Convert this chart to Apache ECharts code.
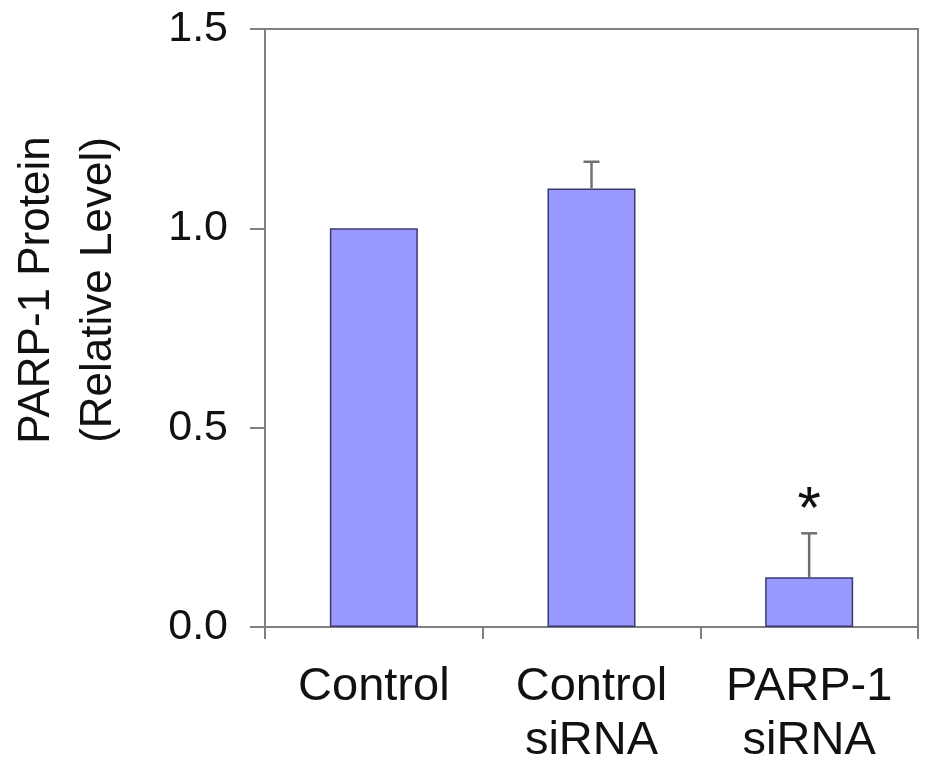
<!DOCTYPE html>
<html>
<head>
<meta charset="utf-8">
<script src="https://cdn.jsdelivr.net/npm/echarts@6/dist/echarts.min.js"></script>
<style>
  html, body { margin: 0; padding: 0; background: #fff; }
  #chart { width: 930px; height: 774px; }
</style>
</head>
<body>
<div id="chart"></div>
<script>
var categories = ['Control', 'Control\nsiRNA', 'PARP-1\nsiRNA'];
var values = [1.0, 1.10, 0.125];
var errors = [0, 0.067, 0.11];
var marks = ['', '', '*'];
var yTicks = [0, 0.5, 1.0, 1.5];

var font = 'Arial, "Liberation Sans", sans-serif';
var axisGray = '#808080';

var chart = echarts.init(document.getElementById('chart'));

var errData = values.map(function (v, i) { return [i, v, errors[i], marks[i]]; });

var option = {
  backgroundColor: '#fff',
  animation: false,
  grid: {
    left: 265, right: 12, top: 29, bottom: 147,
    show: true, borderColor: axisGray, borderWidth: 2
  },
  graphic: [{
    type: 'text',
    x: 68, y: 290,
    rotation: Math.PI / 2,
    style: {
      text: 'PARP-1 Protein\n(Relative Level)',
      font: '44px ' + font,
      fill: '#111',
      align: 'center',
      verticalAlign: 'middle',
      lineHeight: 62
    }
  }],
  xAxis: {
    type: 'category',
    data: categories,
    axisLine: { lineStyle: { color: axisGray, width: 2 } },
    axisTick: { show: true, length: 12, inside: false, lineStyle: { color: axisGray, width: 2 } },
    axisLabel: { color: '#111', fontFamily: font, fontSize: 47, lineHeight: 54, margin: 33 }
  },
  yAxis: {
    type: 'value',
    min: yTicks[0], max: yTicks[yTicks.length - 1], interval: 0.5,
    splitLine: { show: false },
    axisLine: { show: true, lineStyle: { color: axisGray, width: 2 } },
    axisTick: { show: true, length: 15, lineStyle: { color: axisGray, width: 2 } },
    axisLabel: {
      color: '#111', fontFamily: font, fontSize: 43, margin: 37,
      formatter: function (v) { return v.toFixed(1); }
    }
  },
  series: [
    {
      type: 'bar',
      data: values,
      barWidth: 88,
      itemStyle: { color: '#9999ff', borderColor: '#3a3a70', borderWidth: 1.5 }
    },
    {
      type: 'custom',
      data: errData,
      z: 5,
      renderItem: function (params, api) {
        var x = api.value(0), v = api.value(1), e = api.value(2), m = errData[params.dataIndex][3];
        var base = api.coord([x, v]);
        var top = api.coord([x, v + e]);
        var children = [];
        if (e > 0) {
          children.push({ type: 'line', shape: { x1: base[0], y1: base[1], x2: top[0], y2: top[1] },
            style: { stroke: '#707070', lineWidth: 2.5 } });
          children.push({ type: 'line', shape: { x1: top[0] - 8, y1: top[1], x2: top[0] + 8, y2: top[1] },
            style: { stroke: '#707070', lineWidth: 2.5 } });
        }
        if (m) {
          children.push({ type: 'text', x: top[0], y: top[1] + 8,
            style: { text: m, font: '60px ' + font, fill: '#111', align: 'center', verticalAlign: 'bottom' } });
        }
        return { type: 'group', children: children };
      }
    }
  ]
};

chart.setOption(option);
</script>
</body>
</html>
